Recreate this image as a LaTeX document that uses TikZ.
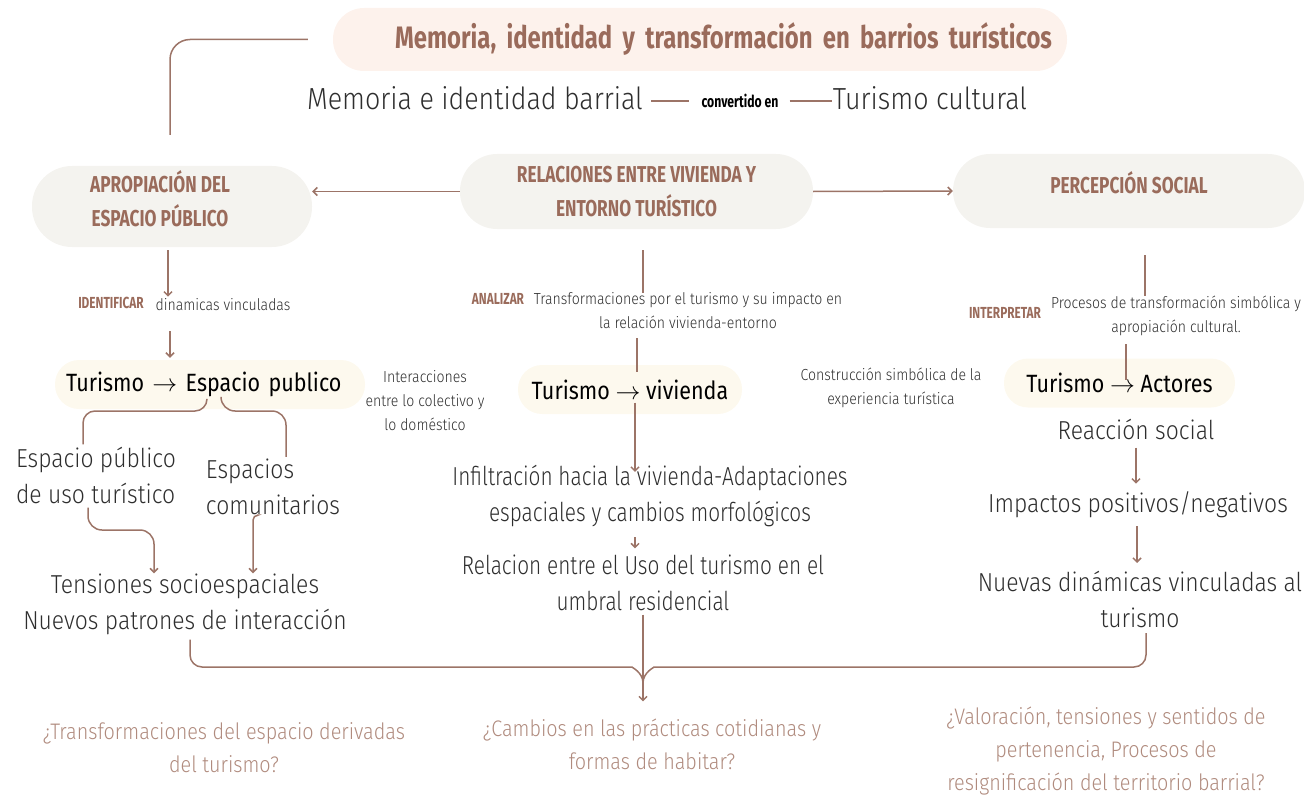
\documentclass[tikz,border=0pt]{standalone}
\usepackage{fontspec}
\setmainfont{Fira Sans}
\newfontfamily\thinf{Fira Sans Light}[FakeStretch=0.88]
\newfontfamily\thinnf{Fira Sans Light}[FakeStretch=0.8]
\newfontfamily\headf{Fira Sans}[FakeStretch=0.75]
\newfontfamily\titlef{Fira Sans}[FakeStretch=0.77, WordSpace=0.5]
\newfontfamily\labf{Fira Sans}[FakeStretch=0.74]
\newfontfamily\pillf{Fira Sans}[FakeStretch=0.86]
\usetikzlibrary{positioning, arrows, arrows.meta}

\definecolor{brownline}{HTML}{9C7467}
\definecolor{browntext}{HTML}{9A6B5B}
\definecolor{pillgrey}{HTML}{F4F3EF}
\definecolor{pillpink}{HTML}{FDF2EC}
\definecolor{pillcream}{HTML}{FDF9EE}
\definecolor{qtext}{HTML}{B08B7E}
\definecolor{darktext}{HTML}{2E2E2E}

\tikzset{
  line/.style={draw=brownline, line width=1.5pt},
  headpill/.style={fill=pillgrey, text=browntext, align=center, inner sep=0pt,
    font=\headf\bfseries\fontsize{23}{34}\selectfont},
  tpill/.style={fill=pillcream, text=black, minimum height=49pt, rounded corners=24pt,
    inner xsep=11pt, font=\pillf\fontsize{25}{30}\selectfont},
  bigtext/.style={text=darktext, inner sep=0pt, font=\thinf\fontsize{26}{36}\selectfont},
  smalltext/.style={text=darktext, inner sep=0pt, font=\thinf\fontsize{16}{24}\selectfont},
  boldlabel/.style={text=browntext, inner sep=0pt, font=\labf\bfseries\fontsize{16}{18}\selectfont},
  question/.style={text=qtext, inner sep=0pt, align=center, font=\thinf\fontsize{22.5}{33}\selectfont},
}

\begin{document}
\begin{tikzpicture}[x=1pt, y=-1pt, >={Straight Barb[length=4pt,width=8pt]}]
\useasboundingbox (0,0) rectangle (1304,797);

% titulo
\node[fill=pillpink, minimum width=734pt, minimum height=63pt, rounded corners=31pt,
  text width=704pt, inner xsep=15pt, align=right, text=browntext,
  font=\titlef\bfseries\fontsize{31}{34}\selectfont] (title) at (700,39.5)
  {Memoria, identidad y transformación en barrios turísticos};

\node[bigtext, font=\thinf\fontsize{30.5}{36}\selectfont] (mem) at (475,98) {Memoria e identidad barrial};
\node[inner sep=0pt, text=black, font=\labf\bfseries\fontsize{16.5}{18}\selectfont] (conv) at (740,101) {convertido en};
\node[bigtext, font=\thinf\fontsize{30.5}{36}\selectfont] (tcult) at (930,98) {Turismo cultural};

\draw[line, shorten <=8pt, shorten >=12pt] (conv.west -| mem.east) -- (conv.west);
\draw[line, shorten <=11pt, shorten >=1pt] (conv.east) -- (conv.east -| tcult.west);

% ejes
\node[headpill, minimum width=280pt, minimum height=81pt, rounded corners=40pt] (apro) at (172,206.5)
  {\hspace*{-24pt}APROPIACIÓN DEL\\\hspace*{-24pt}ESPACIO PÚBLICO\\[-18pt]};
\node[headpill, minimum width=353pt, minimum height=75pt, rounded corners=37pt] (rel) at (636.5,191.5)
  {RELACIONES ENTRE VIVIENDA Y\\ENTORNO TURÍSTICO};
\node[headpill, minimum width=352pt, minimum height=74pt, rounded corners=37pt] (perc) at (1129,191)
  {PERCEPCIÓN SOCIAL\\[-17pt]};

\draw[line, rounded corners=20pt, shorten >=31pt] ([xshift=-25pt]title.west) -| (170,0 |- apro.north);
\draw[line, ->] (rel.west) -- (rel.west -| apro.east);
\draw[line, ->] (rel.east) -- (perc.west);

% espacio publico
\node[boldlabel] (ident) at (111,303) {IDENTIFICAR};
\node[smalltext] (dinam) at (223,305) {dinamicas vinculadas};
\node[tpill, minimum width=310pt, text width=288pt, align=left] (tesp) at (210,384.5)
  {Turismo $\rightarrow$ Espacio publico};
\node[smalltext, align=center] (inter) at (425,401) {Interacciones\\entre lo colectivo y\\lo doméstico};
\node[bigtext, align=left] (epub) at (96,475) {Espacio público\\de uso turístico};
\node[bigtext, align=left] (ecom) at (273,487) {Espacios\\comunitarios};
\node[bigtext, align=center] (tens) at (185,604) {Tensiones socioespaciales\\Nuevos patrones de interacción};

\draw[line, ->, shorten <=3pt, shorten >=2pt] (168,0 |- apro.south) -- (168,0 |- dinam.north);
\draw[line, ->, shorten <=20pt, shorten >=2pt] (170,0 |- dinam.south) -- (170,0 |- tesp.north);
\draw[line, rounded corners=12pt, shorten >=2pt] ([xshift=-3pt,yshift=10pt]tesp.south) |- (83,411) -- (83,0 |- epub.north);
\draw[line, rounded corners=14pt, shorten >=2pt] ([xshift=11pt,yshift=10pt]tesp.south) |- (286,411) -- (286,0 |- ecom.north);
\draw[line, ->, rounded corners=14pt, shorten <=4pt] (88,0 |- epub.south) |- (154,530) -- (154,0 |- tens.north);
\draw[line, ->, rounded corners=5pt, shorten <=9pt] (266,0 |- ecom.south) -| (253,0 |- tens.north);

% vivienda
\node[boldlabel] (anal) at (498,299) {ANALIZAR};
\node[smalltext, align=center] (trans) at (688,311) {Transformaciones por el turismo y su impacto en\\la relación vivienda-entorno};
\node[tpill, minimum width=224pt] (tviv) at (630,389.5) {Turismo $\rightarrow$ vivienda};
\node[bigtext, align=center, font=\thinnf\fontsize{26}{36}\selectfont] (infil) at (650,496)
  {Infiltración hacia la vivienda-Adaptaciones\\espaciales y cambios morfológicos};
\node[bigtext, align=center, font=\thinnf\fontsize{26}{36}\selectfont] (umb) at (643,582.5)
  {Relacion entre el Uso del turismo en el\\umbral residencial};
\node[smalltext, align=center] (constr) at (891,388) {Construcción simbólica de la\\experiencia turística};

\draw[line, shorten <=21pt] (643,0 |- rel.south) -- (643,0 |- trans.north);
\draw[line, shorten <=9pt, shorten >=-7pt] (637,0 |- trans.south) -- (637,0 |- tviv.north);
\draw[line, ->, shorten <=13pt, shorten >=-7pt] (635,0 |- tviv.center) -- (635,0 |- infil.north);
\draw[line, ->, shorten <=10pt, shorten >=6pt] (635,0 |- infil.south) -- (635,0 |- umb.north);

% percepcion
\node[boldlabel] (interp) at (1005,313) {INTERPRETAR};
\node[smalltext, align=center] (proc) at (1176,316) {Procesos de transformación simbólica y\\apropiación cultural.};
\node[tpill, minimum width=231pt] (tact) at (1119.5,383) {Turismo $\rightarrow$ Actores};
\node[bigtext] (reac) at (1136,429) {Reacción social};
\node[bigtext] (impac) at (1138,505) {Impactos positivos/negativos};
\node[bigtext, align=center] (nuev) at (1140,599.5) {Nuevas dinámicas vinculadas al\\turismo};

\draw[line, shorten <=27pt] (1145,0 |- perc.south) -- (1145,0 |- proc.north);
\draw[line, shorten <=8pt, shorten >=-22pt] (1126,0 |- proc.south) -- (1126,0 |- tact.north);
\draw[line, ->, shorten <=8pt, shorten >=8pt] (reac.south) -- (reac.south |- impac.north);
\draw[line, ->, shorten <=8pt, shorten >=8pt] (1137,0 |- impac.south) -- (1137,0 |- nuev.north);

% preguntas
\node[question] (q1) at (224,748) {¿Transformaciones del espacio derivadas\\del turismo?};
\node[question] (q2) at (652,744) {¿Cambios en las prácticas cotidianas y\\formas de habitar?};
\node[question] (q3) at (1106,751.5) {¿Valoración, tensiones y sentidos de\\pertenencia, Procesos de\\resignificación del territorio barrial?};

\coordinate (merge) at (643,683);
\draw[line, rounded corners=12pt, shorten <=5pt] (190,0 |- tens.south) |- (620,667) to[out=0,in=90] (merge);
\draw[line, rounded corners=12pt, shorten <=5pt] (1146,0 |- nuev.south) |- (666,667) to[out=180,in=90] (merge);
\draw[line, ->, shorten <=4pt, shorten >=17pt] (umb.south) -- (umb.south |- q2.north);
\end{tikzpicture}
\end{document}
